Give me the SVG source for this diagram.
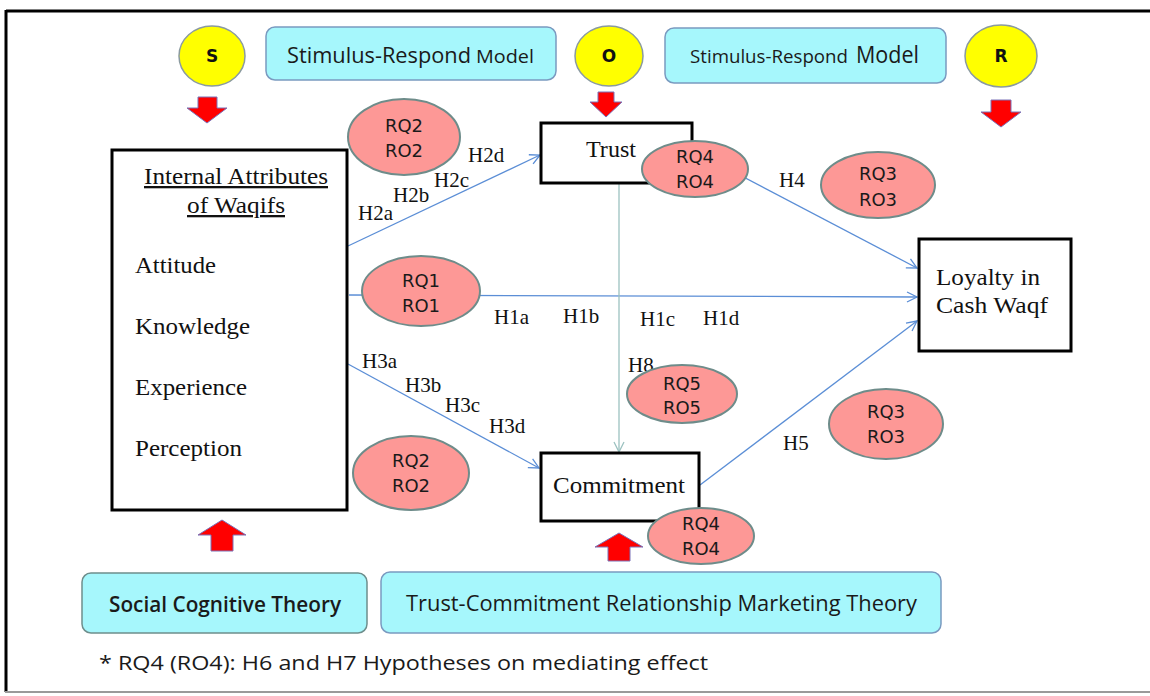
<svg xmlns="http://www.w3.org/2000/svg" width="1150" height="696" viewBox="0 0 1150 696">
<style>
.frame{fill:none;stroke:#000;stroke-width:3}
.box{fill:#fff;stroke:#000;stroke-width:3}
.cyan{fill:#a6f7fc;stroke:#7a9ac0;stroke-width:1.5}
.circ{fill:#ffff00;stroke:#8a9aa0;stroke-width:1.5}
.ell{fill:#fd9896;stroke:#6e8c8a;stroke-width:2}
.red{fill:#ff0000;stroke:#7a72b8;stroke-width:1}
.conn{fill:none;stroke:#5b8ed6;stroke-width:1.3}
.conn2{fill:none;stroke:#9cc2c0;stroke-width:1.3}
.serif{font-family:"Liberation Serif","Times New Roman",serif;fill:#111}
.rq{font-family:"DejaVu Sans","Liberation Sans",sans-serif;font-size:18px;fill:#1a1a1a;text-anchor:middle}
.sor{font-family:"DejaVu Sans","Liberation Sans",sans-serif;font-size:17px;font-weight:bold;fill:#111;text-anchor:middle}
.cal{font-family:"Open Sans","Liberation Sans",sans-serif;fill:#1a1a1a}
.h{font-family:"Liberation Serif","Times New Roman",serif;font-size:21px;fill:#111}
</style>
<defs>
<marker id="vb" markerUnits="userSpaceOnUse" markerWidth="14" markerHeight="14" refX="11" refY="6" orient="auto">
<path d="M1,1 L11,6 L1,11" fill="none" stroke="#5b8ed6" stroke-width="1.3"/>
</marker>
<marker id="vt" markerUnits="userSpaceOnUse" markerWidth="14" markerHeight="14" refX="11" refY="6" orient="auto">
<path d="M1,1 L11,6 L1,11" fill="none" stroke="#9cc2c0" stroke-width="1.3"/>
</marker>
</defs>
<rect width="1150" height="696" fill="#fff"/>
<!-- outer frame -->
<line x1="6" y1="11" x2="1150" y2="11" stroke="#000" stroke-width="3"/>
<line x1="6" y1="10" x2="6" y2="692" stroke="#000" stroke-width="3"/>
<line x1="5" y1="692" x2="1150" y2="692" stroke="#9a9a9a" stroke-width="2"/>

<!-- connectors -->
<g id="connectors">
<line class="conn" x1="348" y1="246" x2="540" y2="155" marker-end="url(#vb)"/>
<line class="conn" x1="349" y1="295" x2="917" y2="297" marker-end="url(#vb)"/>
<line class="conn" x1="348" y1="364" x2="539" y2="468" marker-end="url(#vb)"/>
<line class="conn" x1="692" y1="150" x2="917" y2="268" marker-end="url(#vb)"/>
<line class="conn" x1="700" y1="485" x2="917" y2="321" marker-end="url(#vb)"/>
<line class="conn2" x1="619" y1="183" x2="619" y2="452" marker-end="url(#vt)"/>
<text class="h" x="358" y="220">H2a</text>
<text class="h" x="393" y="202">H2b</text>
<text class="h" x="434" y="187">H2c</text>
<text class="h" x="468" y="162">H2d</text>
<text class="h" x="494" y="324">H1a</text>
<text class="h" x="563" y="323">H1b</text>
<text class="h" x="640" y="326">H1c</text>
<text class="h" x="703" y="325">H1d</text>
<text class="h" x="362" y="368">H3a</text>
<text class="h" x="405" y="392">H3b</text>
<text class="h" x="445" y="412">H3c</text>
<text class="h" x="489" y="433">H3d</text>
<text class="h" x="779" y="187">H4</text>
<text class="h" x="783" y="450">H5</text>
<text class="h" x="628" y="372">H8</text>
</g>

<!-- top row -->
<g id="s-circle">
<ellipse class="circ" cx="212" cy="56" rx="33" ry="30"/>
<text class="sor" x="212" y="62">S</text>
</g>
<g id="o-circle">
<ellipse class="circ" cx="609" cy="56" rx="34" ry="30"/>
<text class="sor" x="609" y="62">O</text>
</g>
<g id="r-circle">
<ellipse class="circ" cx="1001" cy="56" rx="36" ry="31"/>
<text class="sor" x="1001" y="62">R</text>
</g>
<g id="model-1">
<rect class="cyan" x="266" y="27" width="290" height="53" rx="9"/>
<text class="cal" y="63"><tspan x="287" font-size="22" textLength="184" lengthAdjust="spacingAndGlyphs">Stimulus-Respond</tspan><tspan x="476" font-size="19" textLength="58" lengthAdjust="spacingAndGlyphs">Model</tspan></text>
</g>
<g id="model-2">
<rect class="cyan" x="665" y="28" width="281" height="55" rx="9"/>
<text class="cal" y="63"><tspan x="690" font-size="19" textLength="158" lengthAdjust="spacingAndGlyphs">Stimulus-Respond</tspan><tspan x="856" font-size="23" textLength="63" lengthAdjust="spacingAndGlyphs">Model</tspan></text>
</g>

<!-- red block arrows -->
<g id="arrow-s"><path class="red" d="M198,97 H217 V108 H227 L207,123 L187,108 H198 Z"/></g>
<g id="arrow-o"><path class="red" d="M598,92 H614 V102 H622 L606,117 L590,102 H598 Z"/></g>
<g id="arrow-r"><path class="red" d="M991,100 H1011 V112 H1021 L1001,127 L981,112 H991 Z"/></g>
<g id="arrow-sct"><path class="red" d="M222,520 L246,535 H233 V551 H211 V535 H198 Z"/></g>
<g id="arrow-tc"><path class="red" d="M619,533 L643,547 H630 V561 H608 V547 H595 Z"/></g>

<!-- main nodes -->
<g id="internal-attributes">
<rect class="box" x="112" y="150" width="235" height="360"/>
<text class="serif" x="144" y="184" font-size="23" text-decoration="underline" textLength="184" lengthAdjust="spacingAndGlyphs">Internal Attributes</text>
<text class="serif" x="187" y="213" font-size="23" text-decoration="underline" textLength="98" lengthAdjust="spacingAndGlyphs">of Waqifs</text>
<text class="serif" x="135" y="273" font-size="23" textLength="81" lengthAdjust="spacingAndGlyphs">Attitude</text>
<text class="serif" x="135" y="334" font-size="23" textLength="115" lengthAdjust="spacingAndGlyphs">Knowledge</text>
<text class="serif" x="135" y="395" font-size="23" textLength="112" lengthAdjust="spacingAndGlyphs">Experience</text>
<text class="serif" x="135" y="456" font-size="23" textLength="107" lengthAdjust="spacingAndGlyphs">Perception</text>
</g>
<g id="trust">
<rect class="box" x="541" y="123" width="151" height="60"/>
<text class="serif" x="586" y="157" font-size="23" textLength="50" lengthAdjust="spacingAndGlyphs">Trust</text>
</g>
<g id="commitment">
<rect class="box" x="541" y="453" width="158" height="68"/>
<text class="serif" x="553" y="493" font-size="23" textLength="132" lengthAdjust="spacingAndGlyphs">Commitment</text>
</g>
<g id="loyalty">
<rect class="box" x="919" y="239" width="152" height="112"/>
<text class="serif" x="936" y="285" font-size="23" textLength="104" lengthAdjust="spacingAndGlyphs">Loyalty in</text>
<text class="serif" x="936" y="313" font-size="23" textLength="112" lengthAdjust="spacingAndGlyphs">Cash Waqf</text>
</g>

<!-- RQ/RO ellipses -->
<g id="rq2-top">
<ellipse class="ell" cx="404" cy="137" rx="56" ry="38"/>
<text class="rq" x="404" y="132">RQ2</text><text class="rq" x="404" y="157">RO2</text>
</g>
<g id="rq1">
<ellipse class="ell" cx="421" cy="291" rx="59" ry="35"/>
<text class="rq" x="421" y="287">RQ1</text><text class="rq" x="421" y="312">RO1</text>
</g>
<g id="rq4-trust">
<ellipse class="ell" cx="695" cy="169" rx="53" ry="28"/>
<text class="rq" x="695" y="163">RQ4</text><text class="rq" x="695" y="188">RO4</text>
</g>
<g id="rq3-top">
<ellipse class="ell" cx="878" cy="185" rx="57" ry="33"/>
<text class="rq" x="878" y="180">RQ3</text><text class="rq" x="878" y="206">RO3</text>
</g>
<g id="rq5">
<ellipse class="ell" cx="682" cy="394" rx="55" ry="29"/>
<text class="rq" x="682" y="390">RQ5</text><text class="rq" x="682" y="414">RO5</text>
</g>
<g id="rq2-bottom">
<ellipse class="ell" cx="411" cy="473" rx="58" ry="37"/>
<text class="rq" x="411" y="467">RQ2</text><text class="rq" x="411" y="492">RO2</text>
</g>
<g id="rq3-bottom">
<ellipse class="ell" cx="886" cy="424" rx="57" ry="35"/>
<text class="rq" x="886" y="418">RQ3</text><text class="rq" x="886" y="443">RO3</text>
</g>
<g id="rq4-commitment">
<ellipse class="ell" cx="701" cy="536" rx="53" ry="28"/>
<text class="rq" x="701" y="530">RQ4</text><text class="rq" x="701" y="555">RO4</text>
</g>

<!-- theory boxes -->
<g id="social-cognitive-theory">
<rect class="cyan" x="82" y="573" width="285" height="60" rx="9" style="stroke:#6e8e8c"/>
<text class="cal" x="109" y="612" font-size="22" font-weight="600" textLength="232" lengthAdjust="spacingAndGlyphs">Social Cognitive Theory</text>
</g>
<g id="trust-commitment-theory">
<rect class="cyan" x="381" y="572" width="560" height="61" rx="9"/>
<text class="cal" x="406" y="611" font-size="22" textLength="511" lengthAdjust="spacingAndGlyphs">Trust-Commitment Relationship Marketing Theory</text>
</g>
<text class="cal" x="99" y="670" font-size="20" textLength="609" lengthAdjust="spacingAndGlyphs">* RQ4 (RO4): H6 and H7 Hypotheses on mediating effect</text>
</svg>
